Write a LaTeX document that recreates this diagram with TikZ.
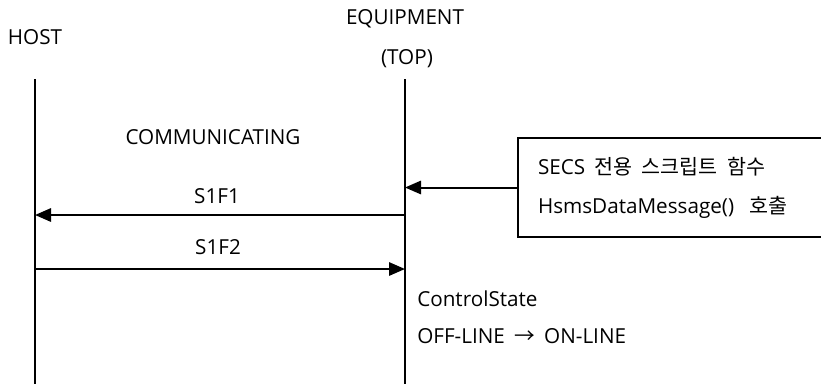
\documentclass[tikz,border=0pt]{standalone}
\usepackage{fontspec}
\setmainfont{Open Sans}
\newfontfamily\kr{Noto Sans CJK KR}
\usetikzlibrary{arrows.meta}
\begin{document}
\begin{tikzpicture}[x=0.75pt,y=-0.75pt,
  lbl/.style={inner sep=0pt, font=\fontsize{15.5pt}{18pt}\selectfont},
  life/.style={line width=1.5pt},
  msg/.style={line width=1.5pt, -{Triangle[length=12pt,width=10pt]}},
  callbox/.style={draw, line width=1.5pt, minimum width=234pt, minimum height=74.25pt,
    text width=204pt, inner xsep=15pt, align=left, font=\fontsize{15.5pt}{29.25pt}\selectfont}]
\useasboundingbox (0,0) rectangle (821,383);
\clip (0,0) rectangle (821,383);
% labels
\node[lbl] (host) at (35,37) {HOST};
\node[lbl] (equip) at (405,19) {EQUIPMENT};
\node[lbl] (top) at (407,59) {(TOP)};
% lifelines
\coordinate (hT) at (35,79);
\coordinate (hB) at (35,384);
\coordinate (eT) at (405,79);
\coordinate (eB) at (405,384);
\draw[life] (hT) -- (hB);
\draw[life] (eT) -- (eB);
% communicating
\node[lbl] (comm) at (213,137) {COMMUNICATING};
% box
\node[callbox] (box) at (674,187.5) {SECS\hspace{0.45em}{\kr 전용\hspace{0.45em}스크립트\hspace{0.45em}함수}\\HsmsDataMessage()\hspace{0.75em}{\kr 호출}};
\coordinate (e0) at (405,187.5);
\draw[msg] (box.west) -- (e0);
% S1F1
\coordinate (e1) at (405,215);
\coordinate (h1) at (35,215);
\draw[msg] (e1) -- (h1);
\node[lbl] (s1f1) at (217,196) {S1F1};
% S1F2
\coordinate (h2) at (35,269);
\coordinate (e2) at (405,269);
\draw[msg] (h2) -- (e2);
\node[lbl] (s1f2) at (218,247) {S1F2};
% control state
\node[lbl, anchor=west] (cs) at (417,299) {ControlState};
\node[lbl, anchor=west] (cs2) at (417,336) {OFF-LINE\hspace{0.45em}{\kr →}\hspace{0.45em}ON-LINE};
\end{tikzpicture}
\end{document}
